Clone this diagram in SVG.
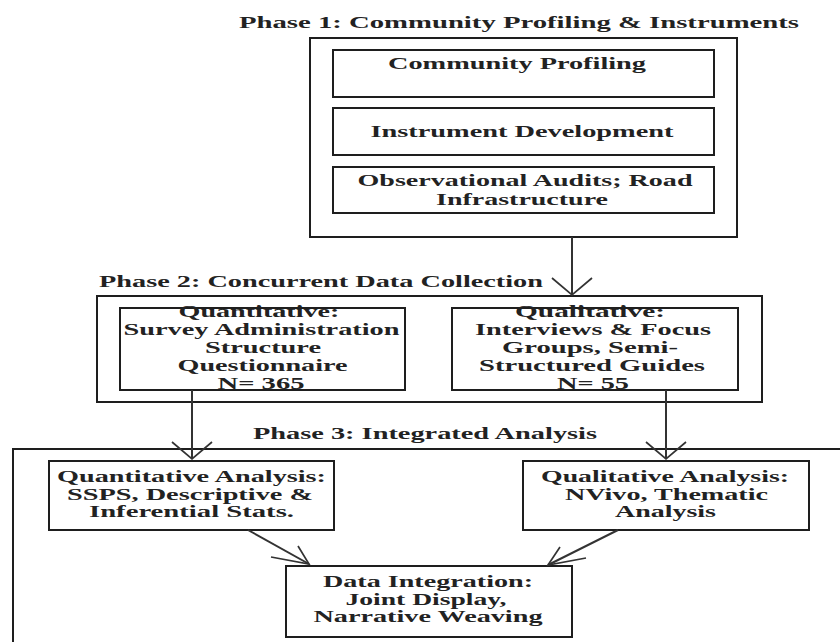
<svg xmlns="http://www.w3.org/2000/svg" width="840" height="642" viewBox="0 0 840 642">
<defs>
<style>
.frame{fill:none;stroke:#1e1e1e;stroke-width:2}
.box{fill:none;stroke:#1e1e1e;stroke-width:2}
.t{font-family:"Liberation Serif","Times New Roman",serif;font-weight:bold;font-size:17px;fill:#222;text-anchor:middle}
.c{fill:none;stroke:#333;stroke-width:2}
.ah{fill:none;stroke:#333;stroke-width:1.7;stroke-linejoin:miter}
</style>
<marker id="ah" markerUnits="userSpaceOnUse" viewBox="-20 -20 40 40" markerWidth="40" markerHeight="40" refX="0" refY="0" orient="auto" overflow="visible"><path class="ah" d="M-17,-20 L0,0 L-17,20"/></marker>
</defs>
<rect width="840" height="642" fill="#fff"/>

<g id="phase1">
<text class="t" x="519" y="28" textLength="560" lengthAdjust="spacingAndGlyphs">Phase 1: Community Profiling &amp; Instruments</text>
<rect class="frame" x="310" y="38" width="427" height="199"/>
</g>
<g id="community-profiling">
<rect class="box" x="333" y="50" width="381" height="47"/>
<text class="t" x="517" y="69" textLength="258" lengthAdjust="spacingAndGlyphs">Community Profiling</text>
</g>
<g id="instrument-development">
<rect class="box" x="333" y="108" width="381" height="47"/>
<text class="t" x="522" y="137" textLength="303" lengthAdjust="spacingAndGlyphs">Instrument Development</text>
</g>
<g id="observational-audits">
<rect class="box" x="333" y="167" width="381" height="46"/>
<text class="t" x="525" y="186" textLength="335" lengthAdjust="spacingAndGlyphs">Observational Audits; Road</text>
<text class="t" x="522" y="204.5" textLength="172" lengthAdjust="spacingAndGlyphs">Infrastructure</text>
</g>

<g id="phase2">
<text class="t" x="321" y="287" textLength="444" lengthAdjust="spacingAndGlyphs">Phase 2: Concurrent Data Collection</text>
<rect class="frame" x="97" y="296" width="665" height="106"/>
</g>
<g id="quantitative">
<rect class="box" x="120" y="308" width="285" height="82"/>
<text class="t" x="259" y="317" textLength="161" lengthAdjust="spacingAndGlyphs">Quantitative:</text>
<text class="t" x="261.5" y="334.5" textLength="276" lengthAdjust="spacingAndGlyphs">Survey Administration</text>
<text class="t" x="263" y="353" textLength="116" lengthAdjust="spacingAndGlyphs">Structure</text>
<text class="t" x="262.5" y="370.5" textLength="170" lengthAdjust="spacingAndGlyphs">Questionnaire</text>
<text class="t" x="261" y="388.5" textLength="87" lengthAdjust="spacingAndGlyphs">N= 365</text>
</g>
<g id="qualitative">
<rect class="box" x="452" y="308" width="286" height="82"/>
<text class="t" x="590" y="317" textLength="150" lengthAdjust="spacingAndGlyphs">Qualitative:</text>
<text class="t" x="593" y="334.5" textLength="236" lengthAdjust="spacingAndGlyphs">Interviews &amp; Focus</text>
<text class="t" x="590" y="353" textLength="176" lengthAdjust="spacingAndGlyphs">Groups, Semi-</text>
<text class="t" x="592" y="370.5" textLength="226" lengthAdjust="spacingAndGlyphs">Structured Guides</text>
<text class="t" x="593" y="388.5" textLength="72" lengthAdjust="spacingAndGlyphs">N= 55</text>
</g>

<g id="phase3">
<text class="t" x="425" y="439" textLength="344" lengthAdjust="spacingAndGlyphs">Phase 3: Integrated Analysis</text>
<path class="frame" d="M13,643 V449 H841"/>
</g>
<g id="quantitative-analysis">
<rect class="box" x="49" y="461" width="285" height="69"/>
<text class="t" x="191.5" y="482" textLength="269" lengthAdjust="spacingAndGlyphs">Quantitative Analysis:</text>
<text class="t" x="190" y="499.5" textLength="246" lengthAdjust="spacingAndGlyphs">SSPS, Descriptive &amp;</text>
<text class="t" x="191.5" y="517" textLength="205" lengthAdjust="spacingAndGlyphs">Inferential Stats.</text>
</g>
<g id="qualitative-analysis">
<rect class="box" x="523" y="461" width="286" height="69"/>
<text class="t" x="665" y="482" textLength="248" lengthAdjust="spacingAndGlyphs">Qualitative Analysis:</text>
<text class="t" x="666.5" y="499.5" textLength="203" lengthAdjust="spacingAndGlyphs">NVivo, Thematic</text>
<text class="t" x="665.5" y="517" textLength="101" lengthAdjust="spacingAndGlyphs">Analysis</text>
</g>
<g id="data-integration">
<rect class="box" x="286" y="566" width="286" height="71"/>
<text class="t" x="428" y="587" textLength="210" lengthAdjust="spacingAndGlyphs">Data Integration:</text>
<text class="t" x="426" y="604.5" textLength="161" lengthAdjust="spacingAndGlyphs">Joint Display,</text>
<text class="t" x="428" y="622" textLength="229" lengthAdjust="spacingAndGlyphs">Narrative Weaving</text>
</g>

<g id="connectors">
<line class="c" x1="572" y1="237" x2="572" y2="295" marker-end="url(#ah)"/>
<line class="c" x1="192" y1="390" x2="192" y2="459" marker-end="url(#ah)"/>
<line class="c" x1="666" y1="390" x2="666" y2="459" marker-end="url(#ah)"/>
<line class="c" x1="248" y1="530" x2="309" y2="564"/>
<path class="ah" d="M271,557 L309,564 L298,546"/>
<line class="c" x1="618" y1="530" x2="548" y2="565"/>
<path class="ah" d="M586,558 L548,565 L560,547"/>
</g>
</svg>
